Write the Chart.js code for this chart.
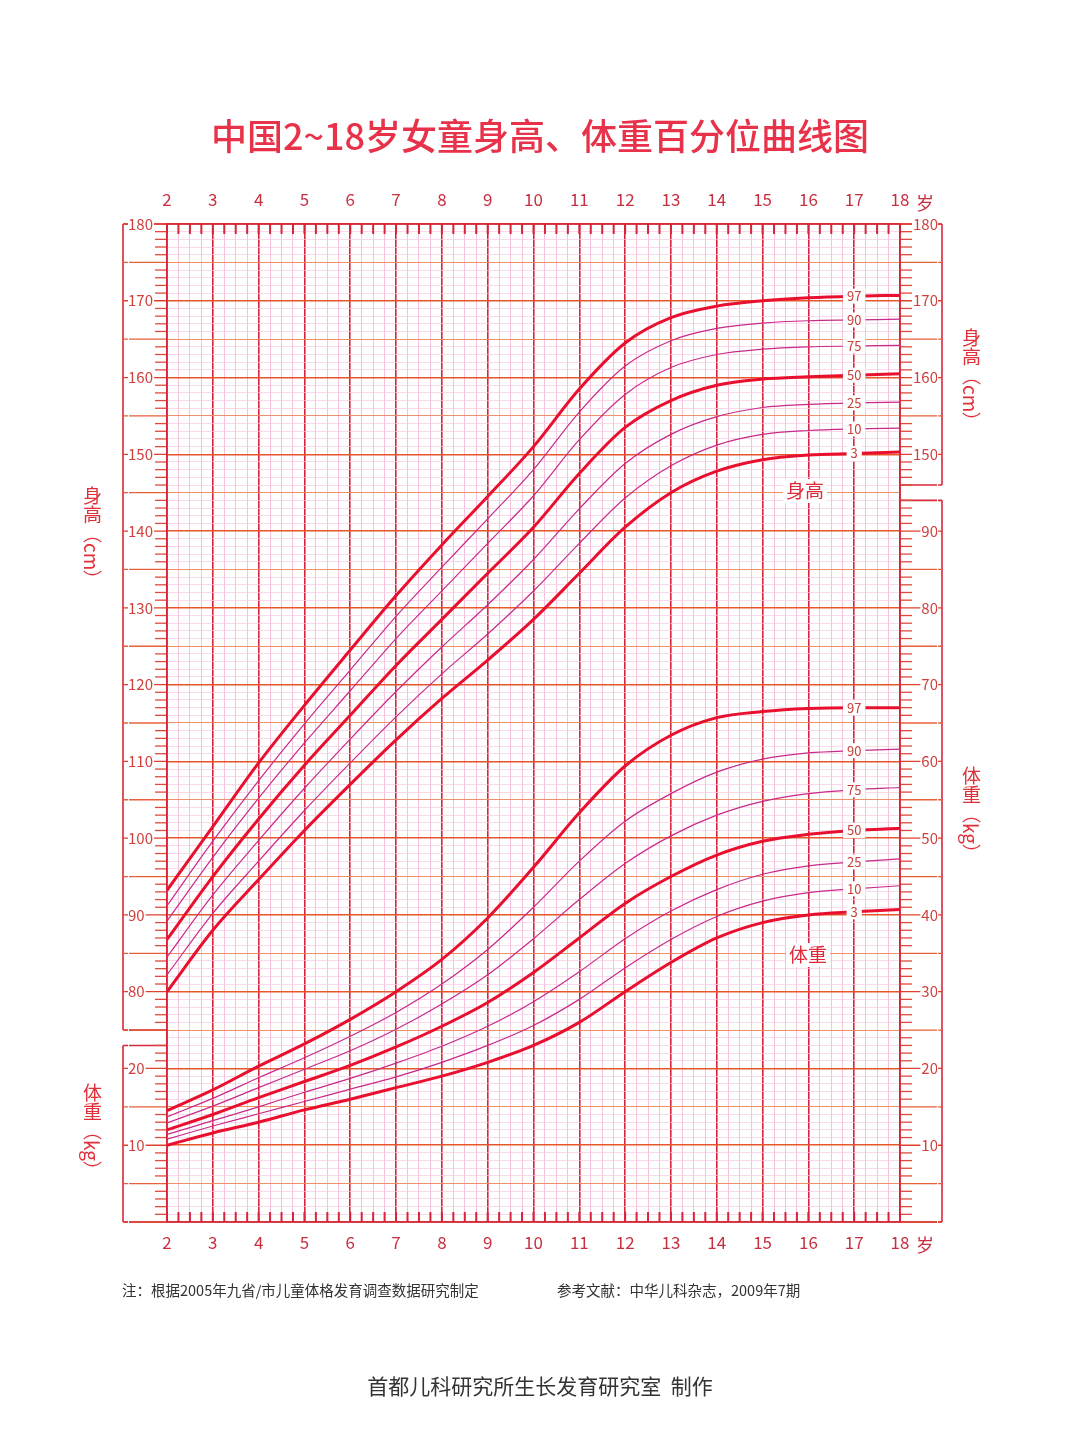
<!DOCTYPE html>
<html><head><meta charset="utf-8">
<script src="https://cdn.jsdelivr.net/npm/chart.js@4/dist/chart.umd.min.js"></script>
<style>
html,body{margin:0;padding:0;background:#fff;}
#wrap{position:relative;width:1080px;height:1439px;}
canvas{position:absolute;left:0;top:0;}
</style></head><body>
<div id="wrap"><canvas id="c" width="1080" height="1439"></canvas></div>
<script>
const ages = [2,3,4,5,6,7,8,9,10,11,12,13,14,15,16,17,18];
const percentiles = ['3','10','25','50','75','90','97'];
const hP3  = [80.0,88.0,94.6,101.0,107.0,112.8,118.2,123.2,128.5,134.5,140.5,145.0,147.8,149.3,149.9,150.1,150.3];
const hP10 = [82.2,90.2,97.0,103.6,109.8,115.8,121.4,126.6,132.2,138.4,144.3,148.5,151.2,152.6,153.1,153.3,153.4];
const hP25 = [84.5,92.6,99.7,106.5,112.9,119.1,124.9,130.4,136.3,142.9,148.8,152.6,154.9,156.1,156.5,156.7,156.8];
const hP50 = [86.8,95.0,102.5,109.5,116.0,122.5,128.5,134.5,140.5,147.5,153.5,157.0,159.0,159.8,160.1,160.3,160.5];
const hP75 = [89.2,97.5,105.2,112.4,119.2,126.0,132.2,138.4,144.6,151.9,157.8,161.3,163.0,163.7,164.0,164.1,164.2];
const hP90 = [91.2,99.6,107.5,114.9,121.9,128.9,135.3,141.6,148.0,155.5,161.5,164.8,166.4,167.1,167.4,167.5,167.6];
const hP97 = [93.2,101.5,109.8,117.3,124.5,131.6,138.2,144.5,151.0,158.5,164.5,167.8,169.3,170.0,170.4,170.6,170.7];
const wP3  = [10.0,11.6,13.0,14.6,16.0,17.5,19.0,20.8,23.0,26.0,30.0,33.8,37.0,39.0,40.0,40.4,40.7];
const wP10 = [10.8,12.5,14.1,15.7,17.3,18.9,20.8,23.0,25.6,29.0,33.1,36.8,39.8,41.8,42.9,43.4,43.8];
const wP25 = [11.4,13.2,15.0,16.9,18.7,20.7,22.9,25.5,28.7,32.6,36.9,40.5,43.3,45.3,46.4,46.9,47.3];
const wP50 = [12.0,14.0,16.2,18.3,20.4,22.8,25.5,28.6,32.5,37.0,41.5,45.0,47.8,49.6,50.5,51.0,51.3];
const wP75 = [12.9,15.1,17.5,19.9,22.3,25.1,28.4,32.2,36.9,42.0,46.7,50.3,53.0,54.8,55.8,56.3,56.6];
const wP90 = [13.7,16.1,18.8,21.4,24.2,27.3,31.0,35.5,41.0,47.0,52.2,55.8,58.6,60.3,61.1,61.4,61.6];
const wP97 = [14.5,17.2,20.3,23.2,26.4,30.0,34.2,39.6,46.2,53.3,59.4,63.4,65.7,66.5,66.9,67.0,67.0];
const ageTicks = ['2','3','4','5','6','7','8','9','10','11','12','13','14','15','16','17','18'];

const heights = [hP3,hP10,hP25,hP50,hP75,hP90,hP97];
const weights = [wP3,wP10,wP25,wP50,wP75,wP90,wP97];
const thick = p => (p==='3'||p==='50'||p==='97');
const datasets = [];
heights.forEach((arr,i)=>datasets.push({label:'身高P'+percentiles[i],data:ages.map((a,j)=>({x:a,y:arr[j]})),yAxisID:'yH',
  borderColor:thick(percentiles[i])?'#e8102e':'#c82a8a',borderWidth:thick(percentiles[i])?3:1.2,pointRadius:0,cubicInterpolationMode:'monotone'}));
weights.forEach((arr,i)=>datasets.push({label:'体重P'+percentiles[i],data:ages.map((a,j)=>({x:a,y:arr[j]})),yAxisID:'y',
  borderColor:thick(percentiles[i])?'#e8102e':'#c82a8a',borderWidth:thick(percentiles[i])?3:1.2,pointRadius:0,cubicInterpolationMode:'monotone'}));

const RED='#d8283a', LBL='#d0403c';
function xGridColor(ctx){const v=ctx.tick.value; return Math.abs(v-Math.round(v))<1e-6?'#d8243a':'#f3b3d6';}
function xGridWidth(ctx){const v=ctx.tick.value; return Math.abs(v-Math.round(v))<1e-6?1.6:0.8;}
function yGridColor(ctx){const v=Math.round(ctx.tick.value); return v%10===0?'#e8562c':(v%5===0?'#f0906a':'#f8c8e2');}
function yGridWidth(ctx){const v=Math.round(ctx.tick.value); return v%10===0?1.6:(v%5===0?1.1:0.7);}
function ageLbl(v){const r=Math.round(v); return Math.abs(v-r)<1e-6?ageTicks[r-2]:'';}

const deco = {
  id:'deco',
  beforeDraw(chart){
    const c=chart.ctx, ca=chart.chartArea, yW=chart.scales.y;
    c.save();
    const L=123, R=942;
    const yp=v=>yW.getPixelForValue(v);
    const boxes=[[L,ca.left,25,130],[L,ca.left,0,23],[ca.right,R,96,130],[ca.right,R,0,94]];
    boxes.forEach(([x0,x1,v0,v1],bi)=>{
      const outer = bi<2?x0:x1, inner = bi<2?x1:x0;
      c.strokeStyle=RED; c.lineWidth=1.6;
      c.beginPath(); c.moveTo(outer,yp(v0)); c.lineTo(outer,yp(v1)); c.stroke();
      c.beginPath(); c.moveTo(x0,yp(v0)); c.lineTo(x1,yp(v0)); c.moveTo(x0,yp(v1)); c.lineTo(x1,yp(v1)); c.stroke();
      for(let v=v0; v<=v1; v++){
        const y=yp(v);
        c.beginPath();
        if(v%5===0){c.strokeStyle=v%10===0?'#e0402e':'#e8603a'; c.lineWidth=1.3; c.moveTo(x0,y); c.lineTo(x1,y);}
        else {c.strokeStyle='#e04a3a'; c.lineWidth=1.3; const d=bi<2?-1:1; c.moveTo(inner,y); c.lineTo(inner+d*12,y);}
        c.stroke();
      }
    });
    c.restore();
  },
  beforeDatasetsDraw(chart){
    const c=chart.ctx, ca=chart.chartArea, xs=chart.scales.x;
    c.save();
    c.strokeStyle='#d8243a'; c.lineWidth=2;
    for(let a=2;a<=18;a+=0.25){const x=xs.getPixelForValue(a); c.beginPath(); c.moveTo(x,ca.top); c.lineTo(x,ca.top+10); c.moveTo(x,ca.bottom); c.lineTo(x,ca.bottom-10); c.stroke();}
    c.lineWidth=1.6; c.strokeRect(ca.left,ca.top,ca.right-ca.left,ca.bottom-ca.top);
    c.restore();
  },
  afterDraw(chart){
    const c=chart.ctx, yW=chart.scales.y, xs=chart.scales.x;
    c.save();
    c.textAlign='center'; c.textBaseline='middle';
    const lx=xs.getPixelForValue(17.0);
    const put=(txt,y,fs,col)=>{c.font=fs+'px "Noto Sans CJK SC", sans-serif'; const w=c.measureText(txt).width+8;
      c.fillStyle='#fff'; c.fillRect(lx-w/2,y-fs/2-1,w,fs+2); c.fillStyle=col||'#c8403a'; c.fillText(txt,lx,y);};
    heights.forEach((arr,i)=>put(percentiles[i],chart.scales.yH.getPixelForValue(arr[15]),13));
    weights.forEach((arr,i)=>put(percentiles[i],yW.getPixelForValue(arr[15]),13));
    const tag=(t,x,y)=>{c.font='19px "Noto Sans CJK SC", sans-serif'; const w=c.measureText(t).width+6;
      c.fillStyle='#fff'; c.fillRect(x-w/2,y-12,w,24); c.fillStyle='#e02a3a'; c.fillText(t,x,y);};
    tag('身高',805,491); tag('体重',808,955);
    c.font='18px "Noto Sans CJK SC", sans-serif'; c.fillStyle='#c83040';
    c.fillText('岁',925,203); c.fillText('岁',925,1245);
    c.restore();
  }
};

const yTickBase = {stepSize:1,autoSkip:false,crossAlign:'far',color:LBL,font:{size:15,family:'"Noto Sans CJK SC"'},padding:4,
  showLabelBackdrop:true,backdropColor:'#ffffff',backdropPadding:{left:1,right:1,top:0,bottom:0}};

new Chart(document.getElementById('c'),{
  type:'line',
  data:{datasets},
  options:{
    responsive:false, animation:false,
    layout:{padding:{left:128,right:142,top:188,bottom:181}},
    plugins:{legend:{display:false},tooltip:{enabled:false}},
    scales:{
      x:{type:'linear',position:'bottom',min:2,max:18,afterFit:s=>{s.height=36;},
        ticks:{stepSize:0.25,autoSkip:false,maxRotation:0,callback:ageLbl,color:'#c83040',font:{size:17,family:'"Noto Sans CJK SC"'},padding:10},
        grid:{color:xGridColor,lineWidth:xGridWidth,drawTicks:false},border:{display:false}},
      x2:{type:'linear',position:'top',min:2,max:18,afterFit:s=>{s.height=36;},
        ticks:{stepSize:0.25,autoSkip:false,maxRotation:0,callback:ageLbl,color:'#c83040',font:{size:17,family:'"Noto Sans CJK SC"'},padding:6},
        grid:{display:false},border:{display:false}},
      y:{type:'linear',position:'left',min:0,max:130,afterFit:s=>{s.width=39;},
        ticks:Object.assign({},yTickBase,{callback:v=>{v=Math.round(v); if(v>=30&&v%10===0)return String(v+50); if(v===10||v===20)return String(v); return '';}}),
        grid:{color:yGridColor,lineWidth:yGridWidth,drawTicks:false},border:{display:false}},
      yR:{type:'linear',position:'right',min:0,max:130,afterFit:s=>{s.width=38;},
        ticks:Object.assign({},yTickBase,{callback:v=>{v=Math.round(v); if(v%10!==0||v===0)return ''; if(v<=90)return String(v); return String(v+50);}}),
        grid:{display:false},border:{display:false}},
      yH:{type:'linear',display:false,min:50,max:180}
    }
  },
  plugins:[deco]
});
</script>
<div style="position:absolute;left:0;top:108px;width:1080px;text-align:center;font:500 36px 'Noto Sans CJK SC';color:#e8324a;">中国2~18岁女童身高、体重百分位曲线图</div>
<div style="position:absolute;left:78px;top:486px;width:28px;font:19px 'Noto Sans CJK SC';color:#e0303a;writing-mode:vertical-rl;">身高（cm）</div>
<div style="position:absolute;left:78px;top:1083px;width:28px;font:19px 'Noto Sans CJK SC';color:#e0303a;writing-mode:vertical-rl;">体重（kg）</div>
<div style="position:absolute;left:957px;top:328px;width:28px;font:19px 'Noto Sans CJK SC';color:#e0303a;writing-mode:vertical-rl;">身高（cm）</div>
<div style="position:absolute;left:957px;top:766px;width:28px;font:19px 'Noto Sans CJK SC';color:#e0303a;writing-mode:vertical-rl;">体重（kg）</div>
<div style="position:absolute;left:122px;top:1279px;font:14.5px 'Noto Sans CJK SC';color:#333;">注：根据2005年九省/市儿童体格发育调查数据研究制定</div>
<div style="position:absolute;left:557px;top:1279px;font:14.5px 'Noto Sans CJK SC';color:#333;">参考文献：中华儿科杂志，2009年7期</div>
<div style="position:absolute;left:0;top:1370px;width:1080px;text-align:center;font:21px 'Noto Sans CJK SC';color:#333;">首都儿科研究所生长发育研究室&nbsp;&nbsp;制作</div>
</body></html>
